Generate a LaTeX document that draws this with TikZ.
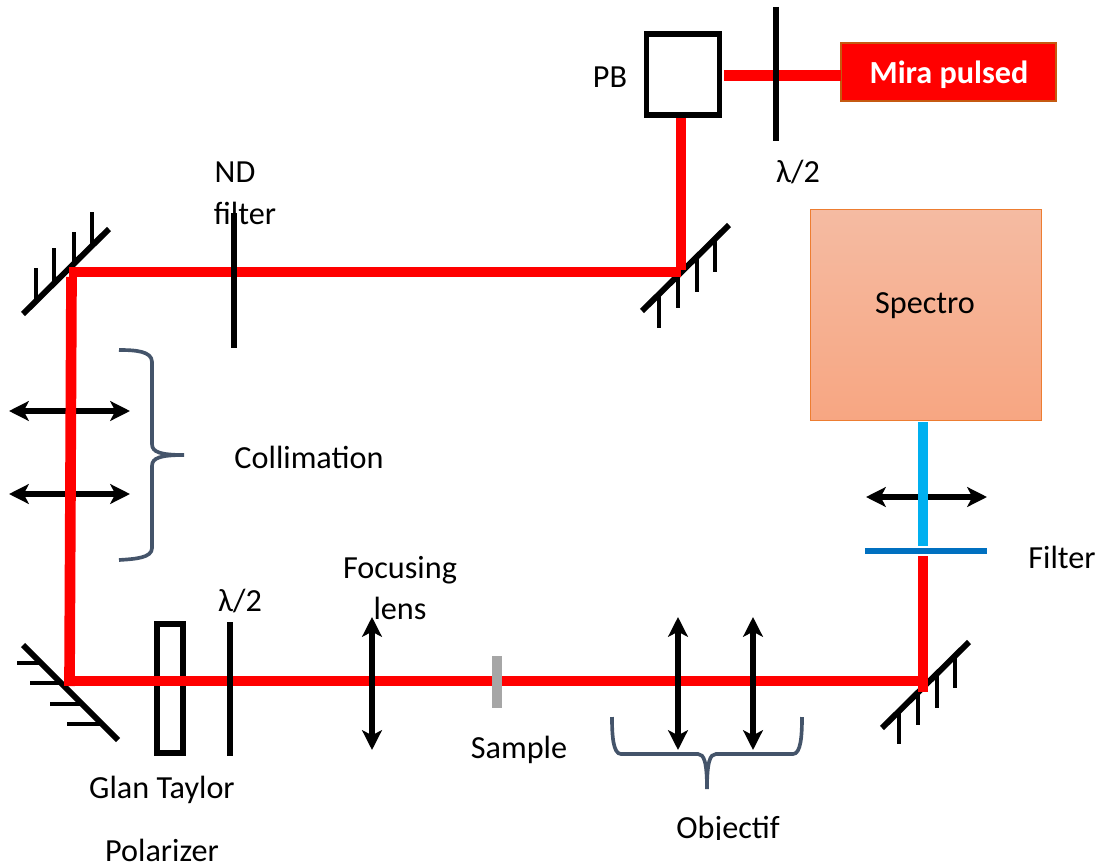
\documentclass[tikz,border=0pt]{standalone}
\usepackage{fontspec}
\setmainfont{Carlito}
\usepackage{tikz}
\usetikzlibrary{arrows.meta}
\definecolor{beamred}{HTML}{FF0000}
\definecolor{beamblue}{HTML}{00B0F0}
\definecolor{filterblue}{HTML}{0070C0}
\definecolor{bracegray}{HTML}{44546A}
\tikzstyle{txt} = [font=\fontsize{22.9}{28}\selectfont, text=black, inner sep=0pt, anchor=base]
\tikzstyle{beam} = [line width=7.6pt, draw=beamred]
\tikzstyle{bluebeam} = [line width=7.6pt, draw=beamblue]
\tikzstyle{plate} = [line width=4.2pt, draw=black]
\tikzstyle{bar} = [line width=4.2pt, draw=black]
\tikzstyle{tick} = [line width=3pt, draw=black]
\tikzstyle{lensarrow} = [line width=3.6pt, draw=black, {Stealth[length=14pt,width=14pt,inset=3.5pt]}-{Stealth[length=14pt,width=14pt,inset=3.5pt]}]
\tikzstyle{brace} = [line width=2.6pt, draw=bracegray]
\begin{document}
\begin{tikzpicture}[x=0.025cm,y=-0.025cm]
        \useasboundingbox (0,0) rectangle (1100,867);
        % texts
        \node (ndtxt) [txt] at (235,183) {ND};
        \node (filtertxt) [txt] at (245,224) {filter};
        \node (pbtxt) [txt] at (610,87.5) {PB};
        \node (halftop) [txt] at (798,182) {λ/2};
        \node (halflow) [txt] at (240,611) {λ/2};
        \node (colltxt) [txt] at (309,468) {Collimation};
        \node (focustxt) [txt] at (400,578) {Focusing};
        \node (lenstxt) [txt] at (400,619) {lens};
        \node (sampletxt) [txt] at (519,758) {Sample};
        \node (glantxt) [txt] at (162,798) {Glan Taylor};
        \node (polartxt) [txt] at (162,861) {Polarizer};
        \node (filterrtxt) [txt] at (1062,568.5) {Filter};
        \begin{scope}
            \clip (600,800) rectangle (860,839);
            \node (objtxt) [txt] at (728,838) {Objectif};
        \end{scope}
        % boxes
        \node (mira) [rectangle, minimum width=152.5bp, minimum height=41bp, draw={rgb,255:red,197;green,90;blue,17}, line width=1.4pt, fill=beamred, inner sep=0pt] at (948.5,72) {};
        \node (miratxt) [txt, text=white, font=\fontsize{22.9}{28}\selectfont\bfseries] at (949,84) {Mira pulsed};
        \node (spectro) [rectangle, minimum width=163bp, minimum height=149bp, draw={rgb,255:red,237;green,125;blue,49}, line width=0.7pt, top color={rgb,255:red,245;green,187;blue,162}, bottom color={rgb,255:red,247;green,166;blue,130}, inner sep=0pt] at (926,315) {};
        \node (spectrotxt) [txt] at (925,313) {Spectro};
        \node (pb) [rectangle, minimum width=51.5bp, minimum height=57.5bp, draw=black, line width=4pt, fill=white, inner sep=0pt] at (683,74.5) {};
        \node (glan) [rectangle, minimum width=18.5bp, minimum height=91.5bp, draw=black, line width=4pt, inner sep=0pt] at (170,688.5) {};
        % mirrors
        \draw [bar] (23,314) -- (109,229);
        \draw [tick] (36,301) -- (36,268);
        \draw [tick] (54,283) -- (54,248);
        \draw [tick] (74,264) -- (74,232);
        \draw [tick] (92,246) -- (92,212);
        \draw [bar] (642,311) -- (729,225);
        \draw [tick] (659,294) -- (659,328);
        \draw [tick] (678,275) -- (678,308);
        \draw [tick] (697,256) -- (697,292);
        \draw [tick] (715,238) -- (715,272);
        \draw [bar] (882,728) -- (969,642);
        \draw [tick] (899,711) -- (899,744);
        \draw [tick] (918,692) -- (918,725);
        \draw [tick] (937,673) -- (937,708);
        \draw [tick] (955,655) -- (955,688);
        \draw [bar] (23,645) -- (118,740);
        \draw [tick] (41,663) -- (17,663);
        \draw [tick] (61,683) -- (30,683);
        \draw [tick] (82,704) -- (50,704);
        \draw [tick] (102,724) -- (67,724);
        % left lenses sit under the beam
        \coordinate (colla) at (9,411);
        \coordinate (collb) at (130,411);
        \coordinate (collc) at (9,494);
        \coordinate (colld) at (130,494);
        \draw [lensarrow] (colla) -- (collb);
        \draw [lensarrow] (collc) -- (colld);
        \coordinate (specin) at (866,497);
        \coordinate (specout) at (987,497);
        \draw [lensarrow] (specin) -- (specout);
        % beam
        \coordinate (miraout) at (841,75.5);
        \coordinate (pbright) at (724,75.5);
        \coordinate (pbdown) at (681,118);
        \coordinate (topright) at (681,270);
        \coordinate (toprightb) at (681,272);
        \coordinate (topleft) at (69,272);
        \coordinate (leftup) at (71.5,277);
        \coordinate (leftdown) at (69.5,686);
        \coordinate (lowleft) at (65,681);
        \coordinate (lowright) at (923,681);
        \coordinate (rightdown) at (923,692);
        \coordinate (rightup) at (923,556);
        \coordinate (blueup) at (923,546);
        \coordinate (bluetop) at (923,422);
        \draw [beam] (miraout) -- (pbright);
        \draw [beam] (topleft) -- (toprightb);
        \draw [beam] (pbdown) -- (topright);
        \draw [beam] (leftup) -- (leftdown);
        \draw [beam] (lowleft) -- (lowright);
        \draw [beam] (rightup) -- (rightdown);
        \draw [bluebeam] (bluetop) -- (blueup);
        % plates and lenses on top of the beam
        \draw [plate] (776,7) -- (776,141);
        \draw [plate] (234,213) -- (234,348);
        \draw [plate] (230,622) -- (230,756);
        \draw [line width=4.2pt, draw=filterblue] (865,551) -- (987,551);
        \draw [line width=7.4pt, draw={rgb,255:red,166;green,166;blue,166}] (497,656) -- (497,708);
        \coordinate (focusa) at (372,617);
        \coordinate (focusb) at (372,750);
        \coordinate (obja) at (678,617);
        \coordinate (objb) at (678,750);
        \coordinate (objc) at (753,617);
        \coordinate (objd) at (753,750);
        \draw [lensarrow] (focusa) -- (focusb);
        \draw [lensarrow] (obja) -- (objb);
        \draw [lensarrow] (objc) -- (objd);
        % braces
        \draw [brace] (119,350) .. controls (135,350) and (152,351) .. (152,362) -- (152,444) .. controls (152,452) and (160,455) .. (184,455) .. controls (160,455) and (152,458) .. (152,466) -- (152,548) .. controls (152,558) and (135,559) .. (119,560);
        \draw [brace] (612,717) .. controls (612,735) and (613,754) .. (621,754) -- (698,754) .. controls (704,754) and (707,762) .. (707,789) .. controls (707,762) and (710,754) .. (716,754) -- (793,754) .. controls (801,754) and (802,735) .. (802,717);
    \end{tikzpicture}
\end{document}
